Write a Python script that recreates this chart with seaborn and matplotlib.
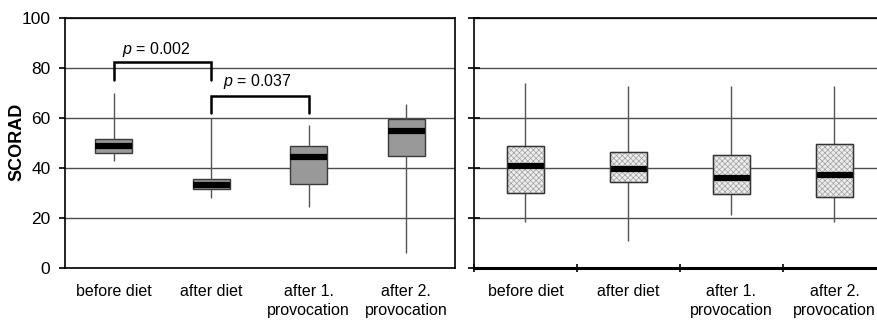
import numpy as np
import pandas as pd
import matplotlib
matplotlib.use("Agg")
import matplotlib.pyplot as plt
from matplotlib.patches import PathPatch
from matplotlib.ticker import FixedLocator
import seaborn as sns

# ---------------- data ----------------
phases = ["before diet", "after diet", "after 1.\nprovocation", "after 2.\nprovocation"]

# five-number summaries: [whisker low, Q1, median, Q3, whisker high]
left_before = [42.7, 45.8, 48.6, 51.4, 69.9]
left_after = [27.8, 31.5, 33.2, 35.5, 60.0]
left_prov1 = [24.2, 33.3, 44.3, 48.7, 57.3]
left_prov2 = [5.7, 44.7, 54.6, 59.7, 65.6]

right_before = [18.2, 30.0, 40.6, 48.8, 74.0]
right_after = [10.8, 34.3, 39.4, 46.3, 72.6]
right_prov1 = [21.1, 29.5, 35.8, 45.2, 72.6]
right_prov2 = [18.2, 28.2, 37.0, 49.3, 72.6]

yticks = [0, 20, 40, 60, 80, 100]

# significance brackets: (x_from, x_to, top, leg_bottom, label, label_x, label_y)
brackets = [
    (0, 1, 82.4, 75.0, "0.002", 0.44, 87.5),
    (1, 2, 68.8, 62.0, "0.037", 1.47, 74.6),
]

# ---------------- style ----------------
sns.set_style("white")
plt.rcParams["font.family"] = ["Liberation Sans", "DejaVu Sans"]
plt.rcParams["mathtext.fontset"] = "custom"
plt.rcParams["mathtext.it"] = "Liberation Sans:italic"
plt.rcParams["mathtext.rm"] = "Liberation Sans"
plt.rcParams["hatch.linewidth"] = 0.5
for k in ("text.color", "axes.labelcolor", "xtick.color", "ytick.color"):
    plt.rcParams[k] = "black"


def to_df(groups):
    rows = []
    for name, vals in zip(phases, groups):
        for v in vals:
            rows.append({"phase": name, "score": v})
    return pd.DataFrame(rows)


df_left = to_df([left_before, left_after, left_prov1, left_prov2])
df_right = to_df([right_before, right_after, right_prov1, right_prov2])

W, H = 878, 324
fig = plt.figure(figsize=(W / 100, H / 100), dpi=100)
bottom = (H - 267.5) / H
height = (267.5 - 18) / H
ax1 = fig.add_axes([65 / W, bottom, 390 / W, height])
ax2 = fig.add_axes([474 / W, bottom, 412 / W, height])

common = dict(x="phase", y="score", order=phases, whis=(0, 100), saturation=1,
              showcaps=False, fliersize=0, linewidth=1.0,
              medianprops=dict(color="black", linewidth=4.5, solid_capstyle="butt"),
              whiskerprops=dict(color="#555555", linewidth=1.0))

sns.boxplot(data=df_left, ax=ax1, width=0.38, color="#999999",
            linecolor="#3a3a3a", **common)
sns.boxplot(data=df_right, ax=ax2, width=0.36, color="#ededed",
            linecolor="#a0a0a0", **common)

# crosshatch on right boxes, plus a dark outline copy
for p in list(ax2.patches):
    p.set_hatch("xxxxxx")
    outline = PathPatch(p.get_path(), transform=p.get_transform(),
                        facecolor="none", edgecolor="#333333", linewidth=1.0,
                        zorder=p.get_zorder() + 0.1)
    ax2.add_patch(outline)

for ax in (ax1, ax2):
    ax.set_ylim(0, 100)
    ax.set_xlim(-0.5, 3.5)
    ax.set_yticks(yticks)
    ax.yaxis.grid(True, color="#4d4d4d", linewidth=1.0)
    ax.xaxis.grid(False)
    ax.set_axisbelow(True)
    ax.set_xlabel("")
    ax.set_ylabel("")
    for s in ax.spines.values():
        s.set_color("black")
        s.set_linewidth(1.2)
    ax.tick_params(axis="x", length=0, pad=12, labelsize=11.5, colors="black")
    for lab in ax.get_xticklabels():
        lab.set_linespacing(1.35)

# left panel
ax1.tick_params(axis="y", direction="out", length=4.5, width=1.2, labelsize=12.5,
                pad=6, left=True)
ax1.set_ylabel("SCORAD", fontsize=13, fontweight="bold")
ax1.yaxis.set_label_coords((25 - 65) / 390, 0.505)

# right panel
ax2.tick_params(axis="y", direction="inout", length=8.5, width=1.2, labelleft=False,
                left=True)
ax2.spines["bottom"].set_linewidth(2.2)
ax2.spines["right"].set_visible(False)
ax2.xaxis.set_minor_locator(FixedLocator([-0.5, 0.5, 1.5, 2.5]))
ax2.tick_params(axis="x", which="minor", direction="inout", length=6, width=1.2,
                bottom=True, color="black")

# brackets
for x0, x1, top, leg, lab, lx, ly in brackets:
    ax1.plot([x0, x0, x1, x1], [leg, top, top, leg], color="black", linewidth=1.8,
             solid_joinstyle="miter", zorder=5, clip_on=False)
    ax1.text(lx, ly, r"$\it{p}$ = " + lab, ha="center", va="center",
             fontsize=11.5, color="black")

fig.savefig("out.png", dpi=100)
